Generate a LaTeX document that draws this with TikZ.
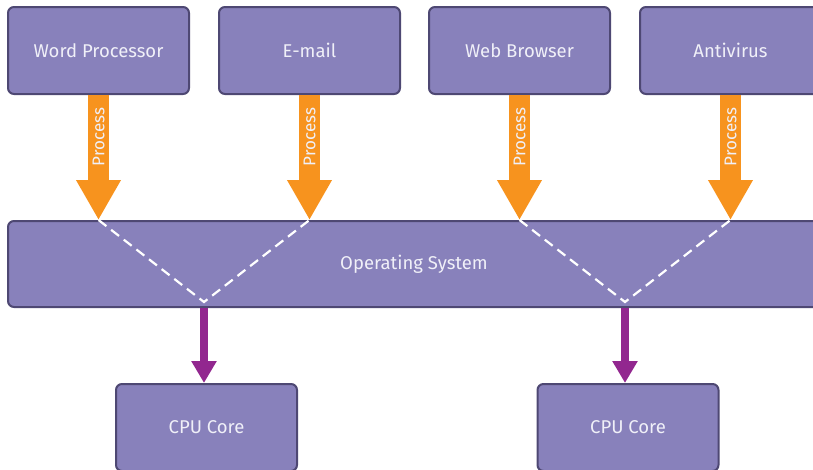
\documentclass[tikz,border=0pt]{standalone}
\usepackage{fontspec}
\setmainfont{Fira Sans}
\usetikzlibrary{arrows.meta}

\definecolor{boxfill}{RGB}{136,129,187}
\definecolor{boxline}{RGB}{78,72,115}
\definecolor{boxtext}{RGB}{240,240,248}
\definecolor{procorange}{RGB}{247,147,30}
\definecolor{corepurple}{RGB}{146,39,143}

\tikzset{
  appbox/.style={draw=boxline, fill=boxfill, line width=2pt, rounded corners=6pt,
    minimum width=181pt, minimum height=87pt, inner sep=0pt, text=boxtext,
    font=\fontsize{18.5}{22}\selectfont},
  procarrow/.style={draw=procorange, line width=21pt, -{Triangle[width=42pt,length=40pt]}},
  proclabel/.style={text=boxtext, rotate=90, inner sep=0pt, font=\fontsize{17}{20}\selectfont},
  corearrow/.style={draw=corepurple, line width=8pt, -{Triangle[width=24pt,length=22pt]}},
  osline/.style={draw=white, line width=2.2pt, dash pattern=on 10pt off 6pt}
}

\begin{document}
\begin{tikzpicture}[x=1pt, y=-1pt]
\clip (0,0) rectangle (813,469);
\useasboundingbox (0,0) rectangle (813,469);

\node[appbox] (wp) at (98.5,50.5) {Word Processor};
\node[appbox] (em) at (309.5,50.5) {E-mail};
\node[appbox] (wb) at (519.5,50.5) {Web Browser};
\node[appbox] (av) at (730.5,50.5) {Antivirus};

\node[appbox, minimum width=812pt, minimum height=86pt] (os) at (414,264) {Operating System};

\node[appbox] (cpua) at (206.5,427.5) {CPU Core};
\node[appbox] (cpub) at (628,427.5) {CPU Core};

\coordinate (va) at (204,302);
\coordinate (vb) at (625,302);

\draw[procarrow] (wp.south) -- (wp.south |- os.north);
\draw[procarrow] (em.south) -- (em.south |- os.north);
\draw[procarrow] (wb.south) -- (wb.south |- os.north);
\draw[procarrow] (av.south) -- (av.south |- os.north);

\node[proclabel] (pwp) at (98.5,137) {Process};
\node[proclabel] (pem) at (309.5,137) {Process};
\node[proclabel] (pwb) at (519.5,137) {Process};
\node[proclabel] (pav) at (730.5,137) {Process};

\draw[osline] (wp.south |- os.north) -- (va) -- (em.south |- os.north);
\draw[osline] (wb.south |- os.north) -- (vb) -- (av.south |- os.north);

\draw[corearrow] (va |- os.south) -- (va |- cpua.north);
\draw[corearrow] (vb |- os.south) -- (vb |- cpub.north);
\end{tikzpicture}
\end{document}
